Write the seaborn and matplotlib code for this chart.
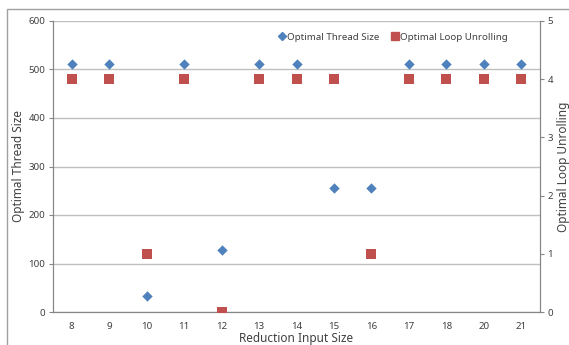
import matplotlib
matplotlib.use("Agg")
import matplotlib.pyplot as plt
from matplotlib.patches import Rectangle
from matplotlib.lines import Line2D
import seaborn as sns
import pandas as pd
import numpy as np

# Reduction input sizes and the tuned parameters for each
input_sizes = ["8", "9", "10", "11", "12", "13", "14", "15", "16", "17", "18", "20", "21"]
thread_size = [512, 512, 32, 512, 128, 512, 512, 256, 256, 512, 512, 512, 512]
loop_unrolling = [4, 4, 1, 4, 0, 4, 4, 4, 1, 4, 4, 4, 4]

BLUE = "#4F81BD"
RED = "#C0504D"
GRID = "#BFBFBF"
AXIS = "#868686"
TEXT = "#404040"

sns.set_theme(style="white")
plt.rcParams["font.family"] = ["Noto Sans", "DejaVu Sans"]

df = pd.DataFrame({"size": input_sizes, "threads": thread_size, "unroll": loop_unrolling})
pos = np.arange(len(input_sizes))

fig = plt.figure(figsize=(5.69, 3.45), dpi=100)
ax = fig.add_axes([53 / 569, 1 - 312 / 345, (540 - 53) / 569, (312 - 21) / 345])
ax2 = ax.twinx()

sns.scatterplot(x=pos, y=df["threads"], ax=ax, marker="D", s=28, color=BLUE,
                edgecolor=BLUE, linewidth=0, zorder=3)
sns.scatterplot(x=pos, y=df["unroll"], ax=ax2, marker="s", s=52, color=RED,
                edgecolor=RED, linewidth=0, zorder=3)

ax.set_xlim(-0.5, len(input_sizes) - 0.5)
ax.set_ylim(0, 600)
ax2.set_ylim(0, 5)
ax.set_yticks(range(0, 601, 100))
ax2.set_yticks(range(0, 6))

# Category labels centred, tick marks on category boundaries
ax.set_xticks(pos)
ax.set_xticklabels(input_sizes)
ax.set_xticks(np.arange(-0.5, len(input_sizes)), minor=True)
ax.tick_params(axis="x", which="major", length=0, pad=7.5, labelsize=7, labelcolor=TEXT)
ax.tick_params(axis="x", which="minor", length=3, width=0.8, color=AXIS, direction="out")
ax.tick_params(axis="y", length=3, width=0.8, color=AXIS, labelsize=7, labelcolor=TEXT, pad=2.5)
ax2.tick_params(axis="y", length=3, width=0.8, color=AXIS, labelsize=7, labelcolor=TEXT, pad=2.5)

ax.grid(axis="y", color=GRID, linewidth=1.0)
ax.set_axisbelow(True)

for a in (ax, ax2):
    a.spines["top"].set_visible(False)
    for s in ("left", "right", "bottom"):
        a.spines[s].set_color(AXIS)
        a.spines[s].set_linewidth(0.8)

ax.set_xlabel("Reduction Input Size", fontsize=8.5, color=TEXT)
ax.set_ylabel("Optimal Thread Size", fontsize=8.5, color=TEXT)
ax2.set_ylabel("Optimal Loop Unrolling", fontsize=8.5, color=TEXT)
ax.xaxis.set_label_coords(0.5, -0.068)
ax.yaxis.set_label_coords(-0.058, 0.5)
ax2.yaxis.set_label_coords(1.034, 0.5)

handles = [
    Line2D([], [], marker="D", linestyle="none", color=BLUE, markersize=4.5),
    Line2D([], [], marker="s", linestyle="none", color=RED, markersize=6),
]
ax.legend(handles, ["Optimal Thread Size", "Optimal Loop Unrolling"], ncol=2,
          loc="upper left", bbox_to_anchor=(0.447, 0.99), frameon=False, fontsize=7,
          handlelength=0.6, handletextpad=0.2, columnspacing=1.3, labelcolor=TEXT)

# Outer chart-area border
fig.patches.append(Rectangle((7 / 569, -0.1), 1.0, 1.1 - 9 / 345, transform=fig.transFigure,
                             fill=False, edgecolor="#A0A0A0", linewidth=1.0))

fig.savefig("out.png", dpi=100)
